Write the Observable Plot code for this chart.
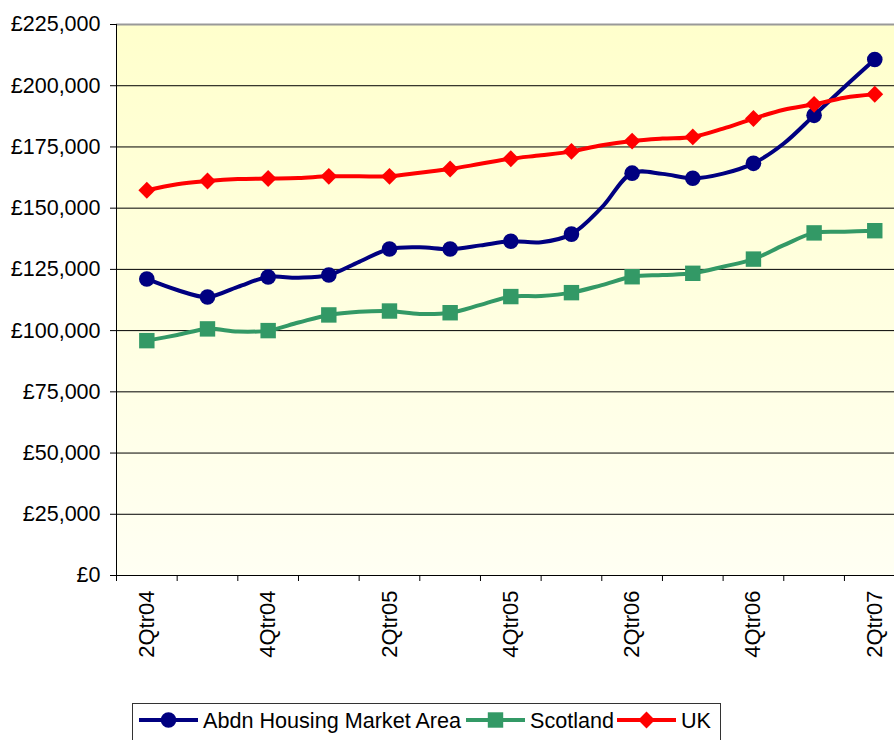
<!DOCTYPE html>
<html>
<head>
<meta charset="utf-8">
<script src="https://cdn.jsdelivr.net/npm/d3@7"></script>
<script src="https://cdn.jsdelivr.net/npm/@observablehq/plot@0.6"></script>
<style>
  html, body { margin: 0; padding: 0; background: #fff; overflow: hidden; }
  #chart svg, #legend svg { display: block; }
</style>
</head>
<body>
<div id="chart"></div>
<div id="legend"></div>
<script>
// Quarter labels (one per marker)
const quarters = ["2Qtr04","3Qtr04","4Qtr04","1Qtr05","2Qtr05","3Qtr05","4Qtr05","1Qtr06","2Qtr06","3Qtr06","4Qtr06","1Qtr07","2Qtr07"];
// Series: 25 readings each; even positions are the quarter markers, odd ones the points between
const abdn = [121100,116600,113700,117900,121900,121600,122700,128100,133300,134000,133300,134800,136500,136100,139400,150300,164300,164000,162200,164100,168300,176400,187900,199500,210700];
const scotland = [95900,98200,100700,99600,100000,103300,106400,107700,108000,106800,107300,110500,113900,114100,115500,118600,122000,122700,123400,126100,129200,134900,139900,140400,140800];
const uk = [157300,159800,161100,161900,162100,162300,163000,163000,163000,164500,166000,168100,170200,171600,173200,175700,177400,178400,179100,182500,186600,190200,192400,195100,196500];
const yTicks = [0,25000,50000,75000,100000,125000,150000,175000,200000,225000];
const labelQuarters = ["2Qtr04","4Qtr04","2Qtr05","4Qtr05","2Qtr06","4Qtr06","2Qtr07"];

const seriesDefs = [
  {name: "Abdn Housing Market Area", values: abdn, color: "#000080", symbol: "circle", r: 7.8},
  {name: "Scotland", values: scotland, color: "#339966", symbol: "square", r: 8.7},
  {name: "UK", values: uk, color: "#FF0000", symbol: "diamond2", r: 7.6}
];

const rows = seriesDefs.map(s => s.values.map((v, i) => ({series: s.name, i, v})));
const boundaries = d3.range(-1, 25, 2);
const labelPos = labelQuarters.map(q => quarters.indexOf(q) * 2);
const fmt = d => "£" + d3.format(",")(d);

const marks = [
  Plot.frame({fill: "url(#bgGrad)", stroke: null}),
  Plot.ruleY(yTicks.filter(t => t > 0 && t < 225000), {stroke: "#000", strokeWidth: 1}),
  Plot.ruleY([225000], {stroke: "#999", strokeWidth: 2}),
  Plot.axisY({ticks: yTicks, tickSize: 6, tickPadding: 10, tickFormat: fmt, label: null, fontSize: 21.5}),
  Plot.axisX({ticks: boundaries, tickSize: 6, tickFormat: () => "", label: null}),
  Plot.axisX({ticks: labelPos, tickSize: 0, tickPadding: 15, tickRotate: -90, tickFormat: i => quarters[i / 2], label: null, fontSize: 22}),
  Plot.ruleX([-1], {stroke: "#000", strokeWidth: 1}),
  Plot.ruleY([0], {stroke: "#000", strokeWidth: 1})
];
seriesDefs.forEach((s, k) => {
  marks.push(Plot.line(rows[k], {x: "i", y: "v", stroke: s.color, strokeWidth: 4, curve: "catmull-rom"}));
  marks.push(Plot.dot(rows[k].filter(d => d.i % 2 === 0), {x: "i", y: "v", symbol: s.symbol, r: s.r, fill: s.color, stroke: null}));
});

const chart = Plot.plot({
  width: 894,
  height: 700,
  marginLeft: 116, marginRight: 0, marginTop: 24, marginBottom: 125,
  x: {domain: [-1, 25], range: [116, 904.6]},
  y: {domain: [0, 225000], range: [575, 24]},
  style: {fontFamily: "'Liberation Sans', Arial, sans-serif", fontSize: "21.5px", color: "#000", background: "transparent", overflow: "hidden"},
  marks
});
chart.insertAdjacentHTML("afterbegin",
  '<defs><linearGradient id="bgGrad" x1="0" y1="0" x2="0" y2="1">' +
  '<stop offset="0" stop-color="#FFFFCC"/><stop offset="1" stop-color="#FFFFF3"/></linearGradient></defs>');
document.getElementById("chart").appendChild(chart);

// Legend below the chart
const lg = d3.select("#legend").append("svg").attr("width", 894).attr("height", 40)
  .style("font-family", "'Liberation Sans', Arial, sans-serif").style("font-size", "21.6px");
lg.append("rect").attr("x", 132.5).attr("y", 3.5).attr("width", 588).attr("height", 60)
  .attr("fill", "#fff").attr("stroke", "#333").attr("stroke-width", 1);
const symMap = {circle: d3.symbolCircle, square: d3.symbolSquare, diamond2: d3.symbolDiamond2};
const legendX = [139, 466, 617];
seriesDefs.forEach((s, k) => {
  const x0 = legendX[k], cy = 20;
  lg.append("line").attr("x1", x0).attr("x2", x0 + 59).attr("y1", cy).attr("y2", cy)
    .attr("stroke", s.color).attr("stroke-width", 4);
  lg.append("path").attr("d", d3.symbol(symMap[s.symbol], Math.PI * s.r * s.r)())
    .attr("transform", `translate(${x0 + 29.5},${cy})`).attr("fill", s.color);
  lg.append("text").attr("x", x0 + 64).attr("y", cy).attr("dy", "0.35em").text(s.name);
});
</script>
</body>
</html>
